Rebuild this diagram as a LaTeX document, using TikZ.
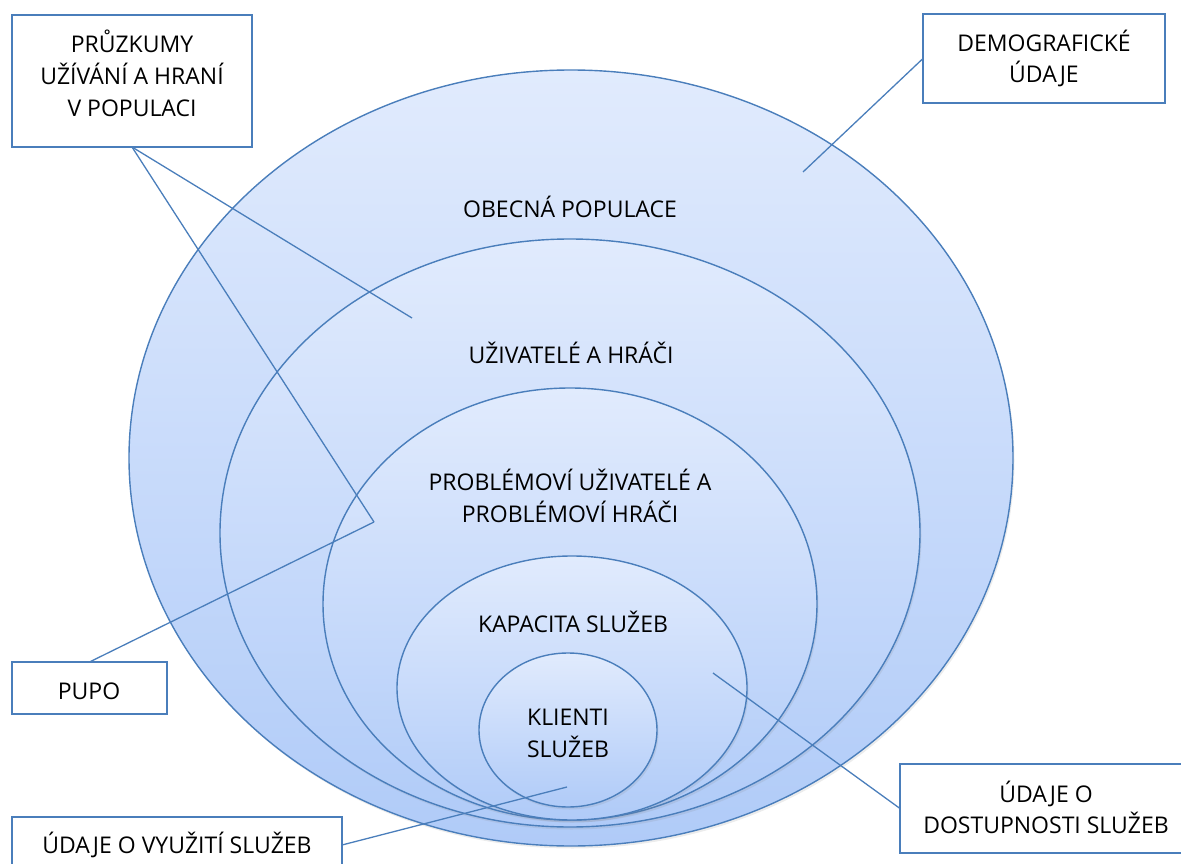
\documentclass[tikz,border=0pt]{standalone}
\usepackage{fontspec}
\setmainfont{Open Sans}
\usetikzlibrary{shapes.geometric,shadows}
\definecolor{edge}{RGB}{74,126,187}
\definecolor{ltop}{RGB}{225,235,253}
\definecolor{lbot}{RGB}{176,203,248}
\begin{document}
\begin{tikzpicture}[x=1pt,y=-1pt,
  ell/.style={ellipse, draw=edge, line width=1.4pt, top color=ltop, bottom color=lbot,
    inner sep=0pt, outer sep=0pt,
    drop shadow={opacity=0.15, shadow xshift=1.5pt, shadow yshift=-2.5pt}},
  lbl/.style={font=\fontsize{23}{32}\selectfont, text=black, inner sep=0pt, anchor=base},
  box/.style={rectangle, draw=edge, line width=1.4pt, fill=white, inner sep=0pt, outer sep=0pt},
  lead/.style={draw=edge, line width=1.3pt}]
\useasboundingbox (0,0) rectangle (1181,864);
% nested ellipses
\node[ell, minimum width=884pt, minimum height=776pt] (gen) at (571,458) {};
\node[ell, minimum width=700pt, minimum height=588pt] (usr) at (570,533) {};
\node[ell, minimum width=494pt, minimum height=432pt] (prob) at (570,604) {};
\node[ell, minimum width=350pt, minimum height=264pt] (kap) at (572,688) {};
\node[ell, minimum width=178pt, minimum height=154pt] (kli) at (568,730) {};
% ellipse labels
\node[lbl] (tgen) at (570,217) {OBECNÁ POPULACE};
\node[lbl] (tusr) at (571,363) {UŽIVATELÉ A HRÁČI};
\node[lbl] (tprob1) at (570,490) {PROBLÉMOVÍ UŽIVATELÉ A};
\node[lbl] (tprob2) at (570,522) {PROBLÉMOVÍ HRÁČI};
\node[lbl] (tkap) at (573,632) {KAPACITA SLUŽEB};
\node[lbl] (tkli1) at (568,725) {KLIENTI};
\node[lbl] (tkli2) at (568,757) {SLUŽEB};
% leader end points
\coordinate (e1) at (412,318);
\coordinate (e2) at (374,522);
\coordinate (e3) at (803,172);
\coordinate (e4) at (713,673);
\coordinate (e5) at (567,787);
% boxes
\node[box, minimum width=240pt, minimum height=132pt] (pruz) at (132,81) {};
\node[box, minimum width=242pt, minimum height=89pt] (demo) at (1044,58.5) {};
\node[box, minimum width=155pt, minimum height=52pt] (pupo) at (89.5,688) {};
\node[box, minimum width=330pt, minimum height=56pt] (vyuz) at (177,845) {};
\node[box, minimum width=290pt, minimum height=89pt] (dost) at (1045,808.5) {};
% leaders
\draw[lead] (pruz.south) -- (e1);
\draw[lead] (pruz.south) -- (e2);
\draw[lead] (pupo.north) -- (e2);
\draw[lead] (demo.west) -- (e3);
\draw[lead] (dost.west) -- (e4);
\draw[lead] (vyuz.east) -- (e5);
% box labels
\node[lbl] (tp1) at (132,53) {PRŮZKUMY};
\node[lbl] (tp2) at (132,85) {UŽÍVÁNÍ A HRANÍ};
\node[lbl] (tp3) at (132,117) {V POPULACI};
\node[lbl] (td1) at (1044,52) {DEMOGRAFICKÉ};
\node[lbl] (td2) at (1044,83) {ÚDAJE};
\node[lbl] (tpu) at (89,699) {PUPO};
\node[lbl] (tv) at (177,853) {ÚDAJE O VYUŽITÍ SLUŽEB};
\node[lbl] (ts1) at (1046,802) {ÚDAJE O};
\node[lbl] (ts2) at (1046,833) {DOSTUPNOSTI SLUŽEB};
\end{tikzpicture}
\end{document}
